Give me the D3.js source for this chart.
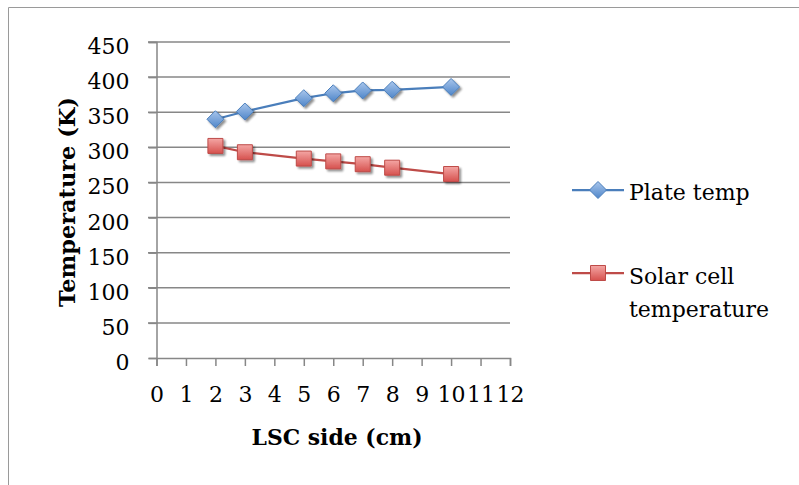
<!DOCTYPE html>
<html><head><meta charset="utf-8">
<script src="https://cdn.jsdelivr.net/npm/d3@7"></script>
<style>html,body{margin:0;padding:0;background:#fff;}svg{display:block;}</style>
</head><body>
<svg id="c" width="799" height="485"></svg>
<script>
const xValues = [2, 3, 5, 6, 7, 8, 10];
const plateTemp = [340, 351, 370, 377, 381, 382, 386];
const solarCellTemp = [302, 293, 284, 280, 276, 271, 262];
const seriesNames = ["Plate temp", "Solar cell temperature"];
const yTicks = [0, 50, 100, 150, 200, 250, 300, 350, 400, 450];
const xTicks = [0,1,2,3,4,5,6,7,8,9,10,11,12];
const xTitle = "LSC side (cm)";
const yTitle = "Temperature (K)";

const svg = d3.select("#c");
const font = "'DejaVu Serif', serif";
const axisColor = "#878787";

// frame
svg.append("path").attr("d","M8.5,485 L8.5,7.5 L799,7.5").attr("fill","none").attr("stroke","#9a9a9a").attr("stroke-width",1);

const x = d3.scaleLinear().domain([0,12]).range([156.5,510]);
const y = d3.scaleLinear().domain([0,450]).range([358,42]);

const defs = svg.append("defs");
const gb = defs.append("linearGradient").attr("id","gb").attr("x1",0).attr("y1",0).attr("x2",0).attr("y2",1);
gb.append("stop").attr("offset","0%").attr("stop-color","#a9c6ec");
gb.append("stop").attr("offset","100%").attr("stop-color","#4f86c9");
const gr = defs.append("linearGradient").attr("id","gr").attr("x1",0).attr("y1",0).attr("x2",0).attr("y2",1);
gr.append("stop").attr("offset","0%").attr("stop-color","#f4a6a4");
gr.append("stop").attr("offset","100%").attr("stop-color","#d6514e");
const flt = defs.append("filter").attr("id","sh").attr("x","-50%").attr("y","-50%").attr("width","200%").attr("height","200%");
flt.append("feGaussianBlur").attr("in","SourceAlpha").attr("stdDeviation",1.2).attr("result","b");
flt.append("feOffset").attr("in","b").attr("dx",1.5).attr("dy",2).attr("result","o");
flt.append("feComponentTransfer").attr("in","o").attr("result","o2").append("feFuncA").attr("type","linear").attr("slope",0.45);
const fm = flt.append("feMerge"); fm.append("feMergeNode").attr("in","o2"); fm.append("feMergeNode").attr("in","SourceGraphic");

// gridlines
svg.append("g").selectAll("line").data(yTicks.filter(d=>d>0)).join("line")
  .attr("x1",148).attr("x2",510).attr("y1",d=>y(d)).attr("y2",d=>y(d))
  .attr("stroke",axisColor).attr("stroke-width",1.5);

// y axis
const yAxis = svg.append("g").attr("transform","translate(156.5,0)")
  .call(d3.axisLeft(y).tickValues(yTicks).tickSize(8).tickPadding(19).tickFormat(d3.format("d")));
yAxis.selectAll("line,path").attr("stroke",axisColor).attr("stroke-width",1.5);
yAxis.selectAll("text").attr("font-family",font).attr("font-size",22).attr("fill","#000").attr("dy","0.52em");

// x axis
const xAxis = svg.append("g").attr("transform","translate(0,358)")
  .call(d3.axisBottom(x).tickValues(xTicks).tickSize(8).tickSizeOuter(8).tickPadding(20).tickFormat(d3.format("d")));
xAxis.selectAll("line,path").attr("stroke",axisColor).attr("stroke-width",1.5);
xAxis.selectAll("text").attr("font-family",font).attr("font-size",22).attr("fill","#000");

// titles
svg.append("text").attr("x",337).attr("y",445).attr("text-anchor","middle")
  .attr("font-family",font).attr("font-weight","bold").attr("font-size",22)
  .attr("textLength",171).attr("lengthAdjust","spacingAndGlyphs").text(xTitle);
svg.append("text").attr("transform","translate(75,202) rotate(-90)").attr("text-anchor","middle")
  .attr("font-family",font).attr("font-weight","bold").attr("font-size",22)
  .attr("textLength",210).attr("lengthAdjust","spacingAndGlyphs").text(yTitle);

const line = d3.line().x(d=>x(d[0])).y(d=>y(d[1]));
const series = [
  {name:seriesNames[0], vals:plateTemp, color:"#4a7ebb", shape:"diamond", fill:"url(#gb)", stroke:"#4a7ebb"},
  {name:seriesNames[1], vals:solarCellTemp, color:"#be4b48", shape:"square", fill:"url(#gr)", stroke:"#be4b48"}
];
const diamond = "M0,-8.5 L8.5,0 L0,8.5 L-8.5,0 Z";
const square = "M-7.5,-7.5 H7.5 V7.5 H-7.5 Z";

series.forEach(s=>{
  const pts = xValues.map((v,i)=>[v,s.vals[i]]);
  svg.append("path").attr("d",line(pts)).attr("fill","none").attr("stroke",s.color).attr("stroke-width",2.25);
  svg.append("g").selectAll("path").data(pts).join("path")
    .attr("transform",d=>`translate(${x(d[0])},${y(d[1])})`)
    .attr("d", s.shape==="diamond"?diamond:square)
    .attr("fill",s.fill).attr("stroke",s.stroke).attr("stroke-width",1).attr("filter","url(#sh)");
});

// legend
const leg = svg.append("g");
const legY = [190, 273];
series.forEach((s,i)=>{
  leg.append("line").attr("x1",572).attr("x2",624).attr("y1",legY[i]).attr("y2",legY[i]).attr("stroke",s.color).attr("stroke-width",2.25);
  leg.append("path").attr("transform",`translate(598,${legY[i]})`).attr("d", s.shape==="diamond"?diamond:square)
    .attr("fill",s.fill).attr("stroke",s.stroke).attr("stroke-width",1);
});
leg.append("text").attr("x",629).attr("y",200).attr("font-family",font).attr("font-size",22).text(seriesNames[0]);
const t2 = leg.append("text").attr("x",629).attr("y",284).attr("font-family",font).attr("font-size",22);
t2.append("tspan").attr("x",629).attr("dy",0).text("Solar cell");
t2.append("tspan").attr("x",629).attr("dy",32.5).text("temperature");
</script>
</body></html>
